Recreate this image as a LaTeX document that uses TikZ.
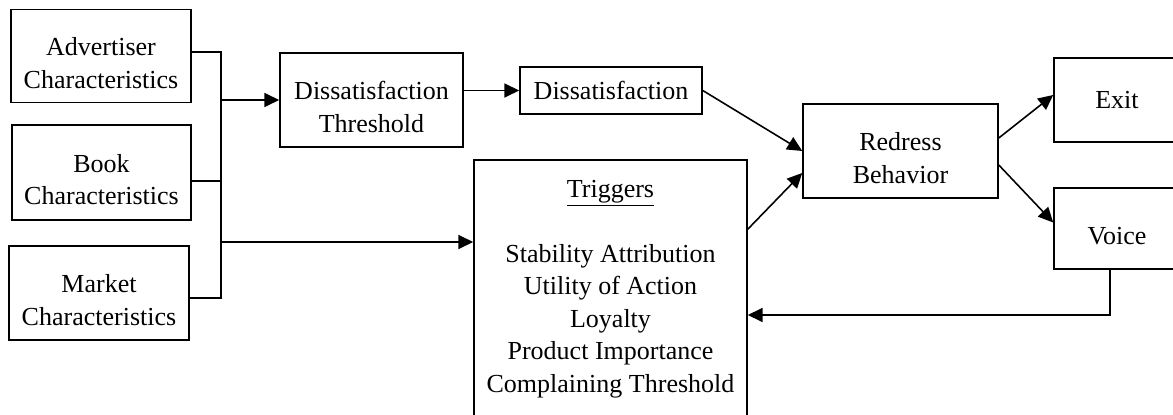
\documentclass[tikz,border=0pt]{standalone}
\usepackage{fontspec}
\setmainfont{Liberation Serif}
\usepackage{tikz}
\usetikzlibrary{arrows.meta}
\usetikzlibrary{positioning}
\usetikzlibrary{calc}
\newcommand{\lowr}{\rule{0pt}{18.5pt}}

\begin{document}
\begin{tikzpicture}
[x=0.02cm, y=-0.02cm,
 blk/.style={rectangle, draw=black, align=center, inner sep=0pt, line width=0.9pt, font=\fontsize{14.8}{18.5}\selectfont},
 arr/.style={-{Triangle[length=8.5pt,width=8pt]}, line width=0.9pt},
 ln/.style={line width=0.9pt},]
\useasboundingbox (0,0) rectangle (1173,415);
\clip (0,0) rectangle (1173,415);
\node[blk, minimum width=3.6cm, minimum height=1.86cm] (adv) at (101,56) {\lowr Advertiser\\ Characteristics};
\node[blk, minimum width=3.58cm, minimum height=1.9cm] (book) at (101.5,172.5) {\lowr Book\\ Characteristics};
\node[blk, minimum width=3.6cm, minimum height=1.88cm] (mkt) at (99,293) {\lowr Market\\ Characteristics};
\node[blk, minimum width=3.66cm, minimum height=1.88cm] (dt) at (371.5,100) {\lowr Dissatisfaction\\ Threshold};
\node[blk, minimum width=3.64cm, minimum height=0.94cm] (diss) at (611,90.5) {Dissatisfaction};
\node[blk, minimum width=5.46cm, minimum height=5.16cm] (trig) at (610.5,289) {\underline{Triggers}\\[18.5pt] Stability Attribution\\ Utility of Action\\ Loyalty\\ Product Importance\\ Complaining Threshold};
\node[blk, minimum width=3.9cm, minimum height=1.88cm] (redr) at (900.5,151) {\lowr Redress\\ Behavior};
\node[blk, minimum width=2.52cm, minimum height=1.68cm] (exit) at (1117,100) {Exit};
\node[blk, minimum width=2.52cm, minimum height=1.62cm] (voice) at (1117,228.5) {\lowr Voice};
\coordinate (busA) at (221,52);
\coordinate (busB) at (221,181);
\coordinate (busM) at (221,298);
\coordinate (busT) at (221,242);
\coordinate (fb) at (1110,315);
\draw[ln] (adv.east |- busA) -- (busA) -- (busM) -- (mkt.east |- busM);
\draw[ln] (book.east |- busB) -- (busB);
\draw[arr] (busA |- dt.west) -- (dt.west);
\draw[arr] (busT) -- (trig.west |- busT);
\draw[arr] (dt.east |- diss.west) -- (diss.west);
\draw[arr] (diss.east) -- (redr.west);
\draw[arr] ($(trig.north east)+(0,70)$) -- ($(redr.west)+(0,22)$);
\draw[arr] ($(redr.east)+(0,-13)$) -- ($(exit.west)+(0,-5)$);
\draw[arr] ($(redr.east)+(0,14)$) -- ($(voice.west)+(0,-6)$);
\draw[arr] (voice.south -| fb) -- (fb) -- (trig.east |- fb);
\end{tikzpicture}
\end{document}
